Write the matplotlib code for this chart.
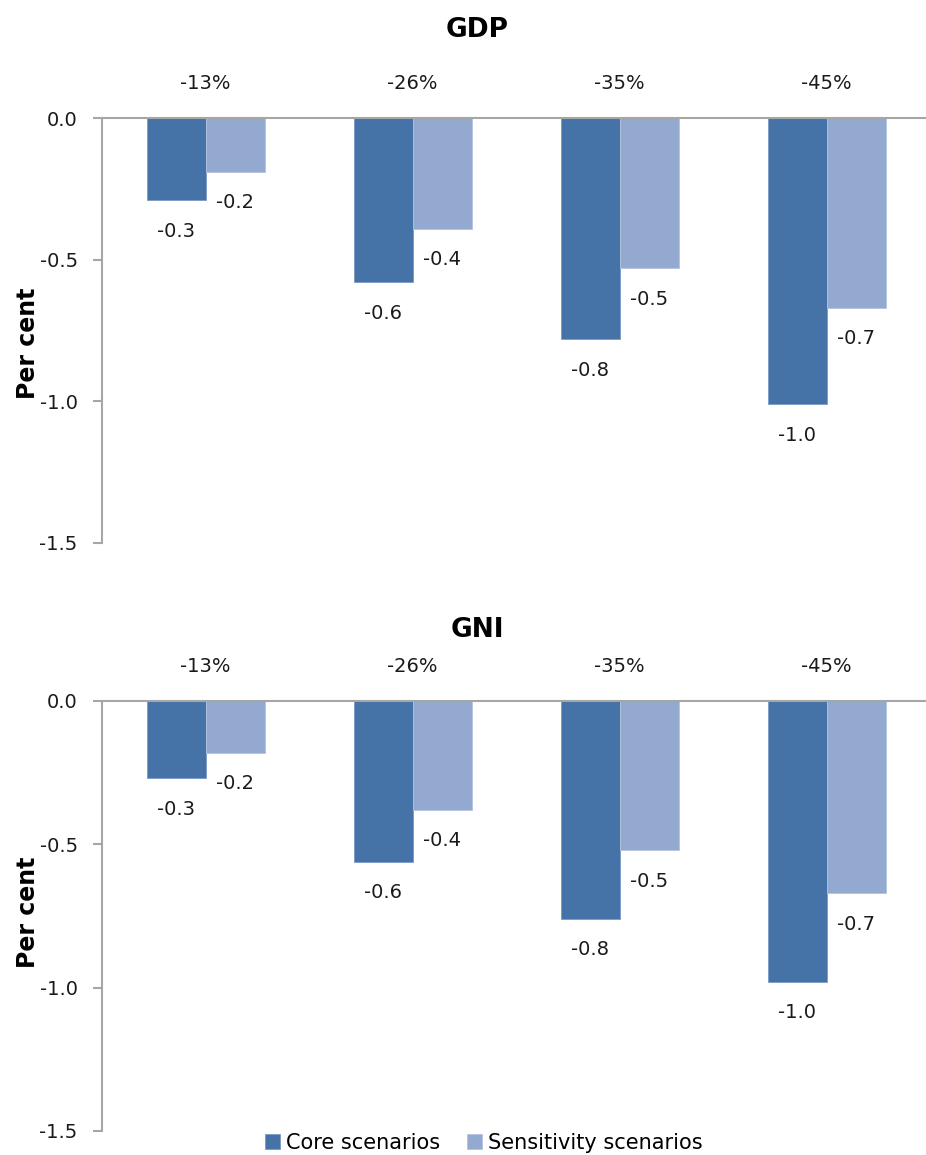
import matplotlib
matplotlib.use("Agg")
import matplotlib.pyplot as plt
import numpy as np

plt.rcParams['font.family'] = ['DejaVu Sans']
plt.rcParams['axes.unicode_minus'] = False

categories = ['-13%', '-26%', '-35%', '-45%']
gdp_core = [-0.29, -0.58, -0.78, -1.01]
gdp_sens = [-0.19, -0.39, -0.53, -0.67]
gni_core = [-0.27, -0.56, -0.76, -0.98]
gni_sens = [-0.18, -0.38, -0.52, -0.67]
yticks = [0.0, -0.5, -1.0, -1.5]

CORE = '#4572A7'
SENS = '#93A9CF'
GREY = '#A6A6A6'
FS = 14

W, H = 926, 1155
fig = plt.figure(figsize=(W / 100, H / 100), dpi=100)


def panel(top_px, bottom_px, title, title_y, ylabel_y, core, sens):
    ax = fig.add_axes([102 / W, 1 - bottom_px / H, 1 - 102 / W, (bottom_px - top_px) / H])
    x = np.arange(len(categories))
    bw = 0.285
    b1 = ax.bar(x - bw / 2, core, bw, color=CORE, edgecolor='#7A9AC4', linewidth=0.6,
                label='Core scenarios')
    b2 = ax.bar(x + bw / 2, sens, bw, color=SENS, edgecolor='#B4C4E0', linewidth=0.6,
                label='Sensitivity scenarios')
    for bars, vals in ((b1, core), (b2, sens)):
        for r, v in zip(bars, vals):
            ax.annotate(f'{v:.1f}', (r.get_x() + r.get_width() / 2, v),
                        xytext=(0, -31), textcoords='offset pixels',
                        ha='center', va='center', fontsize=FS, color='#1a1a1a')
    ax.set_xlim(-0.5, 3.48)
    ax.set_ylim(-1.5, 0)
    ax.set_yticks(yticks)
    ax.set_yticklabels([f'{t:.1f}' for t in yticks])
    ax.xaxis.tick_top()
    ax.set_xticks(x)
    ax.set_xticklabels(categories)
    ax.tick_params(axis='x', length=0, pad=18, labelsize=FS, labelcolor='#1a1a1a')
    ax.tick_params(axis='y', length=6.5, width=1.5, color=GREY, pad=11,
                   labelsize=FS, labelcolor='#1a1a1a')
    for s in ('right', 'bottom'):
        ax.spines[s].set_visible(False)
    for s in ('left', 'top'):
        ax.spines[s].set_color(GREY)
        ax.spines[s].set_linewidth(1.5)
    fig.text(477 / W, 1 - title_y / H, title, ha='center', va='center',
             fontsize=19, fontweight='bold')
    fig.text(28 / W, 1 - ylabel_y / H, 'Per cent', ha='center', va='center',
             rotation=90, fontsize=17, fontweight='bold')
    return ax


ax1 = panel(118, 543, 'GDP', 30, 343, gdp_core, gdp_sens)
ax2 = panel(701, 1131, 'GNI', 630, 912, gni_core, gni_sens)

handles, labels = ax2.get_legend_handles_labels()
fig.legend(handles, labels, loc='center', bbox_to_anchor=(484 / W, 1 - 1143 / H),
           ncol=2, frameon=False, fontsize=15, handlelength=0.7, handleheight=0.7,
           handletextpad=0.3, columnspacing=1.3, borderpad=0)

fig.savefig('out.png', dpi=100)
